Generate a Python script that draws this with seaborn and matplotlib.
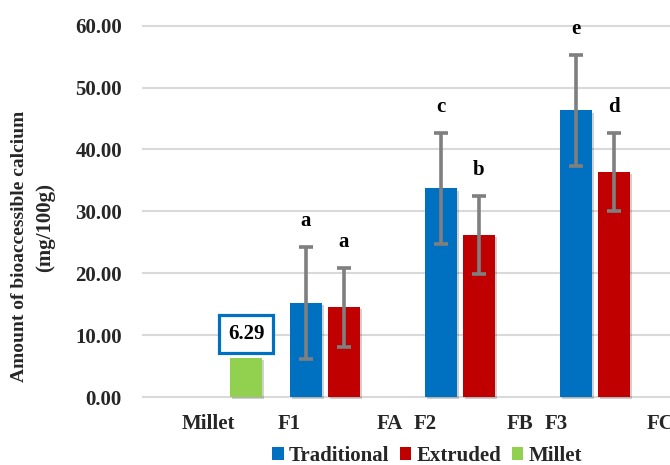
import matplotlib
matplotlib.use("Agg")
import matplotlib.pyplot as plt
import matplotlib.patheffects as pe
import numpy as np
import pandas as pd
import seaborn as sns

# ---- data -------------------------------------------------------------
formulations = ["F1", "F2", "F3"]
traditional = [15.2, 33.7, 46.3]
traditional_sd = [9.1, 9.0, 9.0]
extruded = [14.5, 26.2, 36.3]
extruded_sd = [6.4, 6.3, 6.3]
millet = 6.29
traditional_letters = ["a", "c", "e"]
extruded_letters = ["a", "b", "d"]
tick_labels = ["Millet", "F1", "FA", "F2", "FB", "F3", "FC"]
series_order = ["Traditional", "Extruded", "Millet"]

# ---- layout (x in group units) -----------------------------------------
group_x = [1.0, 2.0, 3.0]
millet_x = 0.415
pair_offset = 0.141
bar_w = 0.237
tick_pos = [0.133, 0.733, 1.481, 1.741, 2.444, 2.711, 3.485]
palette = {"Traditional": "#0070C0", "Extruded": "#C00000", "Millet": "#92D050"}
err_color = "#7F7F7F"
grid_color = "#D9D9D9"

rows = []
for g, t, ts, e, es in zip(group_x, traditional, traditional_sd, extruded, extruded_sd):
    rows.append({"x": g - pair_offset, "value": t, "sd": ts, "series": "Traditional"})
    rows.append({"x": g + pair_offset, "value": e, "sd": es, "series": "Extruded"})
rows.append({"x": millet_x, "value": millet, "sd": np.nan, "series": "Millet"})
df = pd.DataFrame(rows)

sns.set_theme(style="white")
plt.rcParams["font.family"] = ["Liberation Serif", "DejaVu Serif"]
plt.rcParams["font.weight"] = "bold"

fig = plt.figure(figsize=(6.7, 4.65), dpi=100)
ax = fig.add_axes([142 / 670, 64.9 / 465, 538 / 670, 0.8185])

min_gap = np.min(np.diff(np.unique(df["x"])))
sns.barplot(data=df, x="x", y="value", hue="series", hue_order=series_order,
            palette=palette, native_scale=True, dodge=False,
            width=bar_w / min_gap, errorbar=None, saturation=1,
            linewidth=0, ax=ax)

for p in ax.patches:
    p.set_path_effects([pe.SimplePatchShadow(offset=(1.5, -1.5), shadow_rgbFace="black",
                                             alpha=0.18), pe.Normal()])

# error bars
err = df.dropna(subset=["sd"])
ax.errorbar(err["x"], err["value"], yerr=err["sd"], fmt="none", ecolor=err_color,
            elinewidth=2.6, capsize=4.8, capthick=2.6, zorder=5)

# significance letters
for g, t, ts, lt, e, es, le in zip(group_x, traditional, traditional_sd, traditional_letters,
                                   extruded, extruded_sd, extruded_letters):
    ax.text(g - pair_offset, t + ts + 4.2, lt, ha="center", va="center",
            fontsize=15, fontweight="bold", color="black")
    ax.text(g + pair_offset, e + es + 4.2, le, ha="center", va="center",
            fontsize=15, fontweight="bold", color="black")

# boxed value label for millet
ax.text(millet_x, millet + 3.9, f"{millet:.2f}", ha="center", va="center",
        fontsize=15, fontweight="bold", color="black", zorder=6,
        bbox=dict(boxstyle="square,pad=0.42", facecolor="white",
                  edgecolor="#0070C0", linewidth=2.3))

# axes styling
ax.set_xlim(-0.3556, 3.630)
ax.set_ylim(-0.5, 61)
ax.set_yticks(np.arange(0, 61, 10))
ax.set_yticklabels([f"{v:.2f}" for v in np.arange(0, 61, 10)])
ax.set_xticks(tick_pos)
ax.set_xticklabels(tick_labels)
ax.tick_params(axis="y", length=0, pad=14.4, labelsize=15)
ax.tick_params(axis="x", length=0, pad=10, labelsize=15)
for lbl in ax.get_xticklabels() + ax.get_yticklabels():
    lbl.set_fontweight("bold")
ax.set_xlabel("")
ax.set_ylabel("")
for s in ax.spines.values():
    s.set_visible(False)
for v in np.arange(0, 61, 10):
    ax.axhline(v, color=grid_color, linewidth=1.5, zorder=0)
ax.set_axisbelow(True)

# y axis title
fig.text(20 / 670, 1 - 246 / 465, "Amount of bioaccessible calcium", rotation=90,
         ha="center", va="center", fontsize=14, fontweight="bold")
fig.text(45 / 670, 1 - 228 / 465, "(mg/100g)", rotation=90,
         ha="center", va="center", fontsize=15, fontweight="bold")

sns.move_legend(ax, "center", bbox_to_anchor=(427 / 670, 1 - 456 / 465),
                bbox_transform=fig.transFigure, ncol=3, frameon=False, title=None,
                handlelength=0.55, handleheight=0.55, handletextpad=0.25,
                columnspacing=0.5, prop={"weight": "bold", "size": 15})

fig.savefig("out.png", dpi=100)
